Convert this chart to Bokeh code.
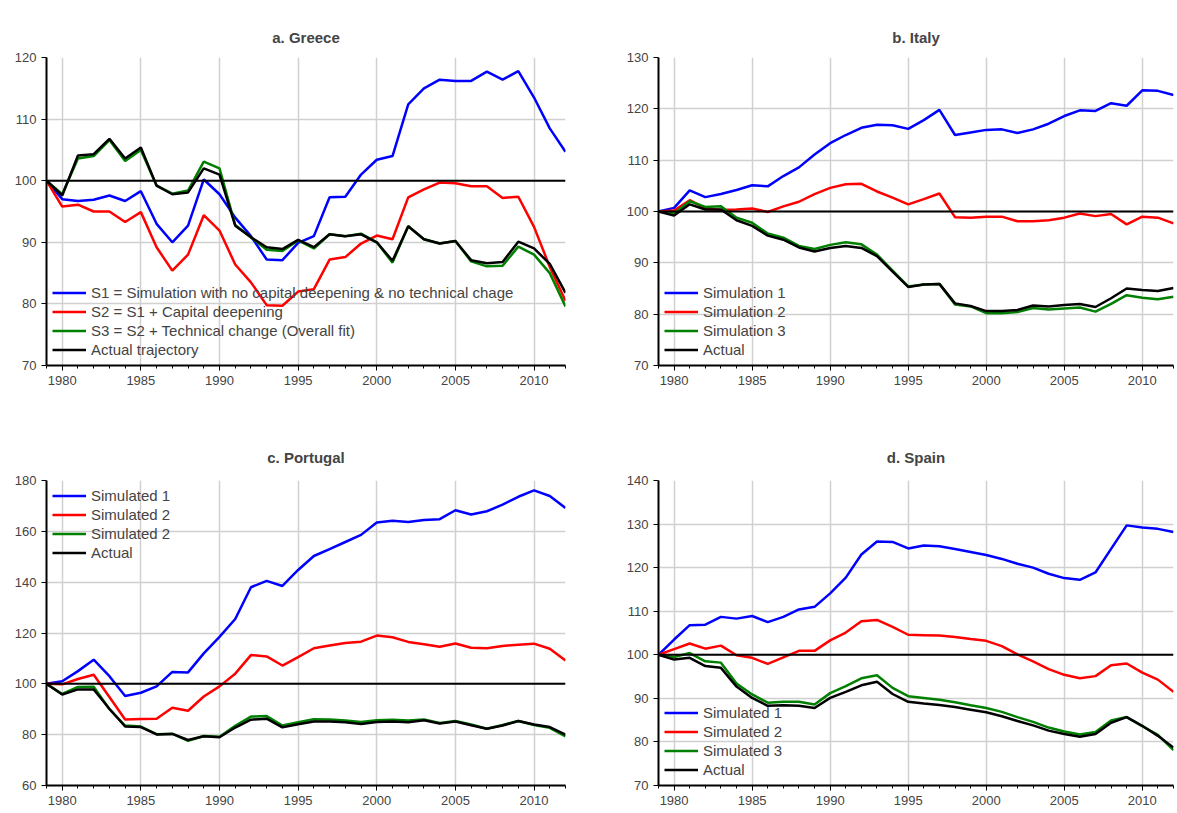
from bokeh.plotting import figure
from bokeh.layouts import gridplot
from bokeh.models import SingleIntervalTicker, Legend, LegendItem, Span, Range1d
from bokeh.embed import file_html
from bokeh.resources import INLINE

years = list(range(1979, 2013))

greece_s1 = [100, 97, 96.7, 96.9, 97.6, 96.7, 98.3, 93, 90, 92.7, 100.2, 97.8, 94, 91, 87.2, 87.1, 89.9, 91,
             97.3, 97.4, 101, 103.4, 104, 112.4, 115, 116.4, 116.2, 116.2, 117.7, 116.4, 117.8, 113.5, 108.5, 104.7]
greece_s2 = [100, 95.8, 96.1, 95, 95, 93.3, 94.9, 89.2, 85.4, 88, 94.4, 91.9, 86.4, 83.5, 79.8, 79.7, 82, 82.4,
             87.2, 87.6, 89.8, 91.1, 90.5, 97.3, 98.6, 99.7, 99.6, 99.1, 99.1, 97.2, 97.4, 92.5, 86, 80.5]
greece_s3 = [100, 97.8, 103.6, 104, 106.6, 103.2, 105, 99.2, 97.9, 98.4, 103.1, 102, 92.8, 90.8, 88.8, 88.6, 90.3,
             89, 91.3, 91, 91.4, 90, 86.7, 92.6, 90.5, 89.8, 90.2, 86.9, 86.1, 86.2, 89.3, 88, 85, 79.6]
greece_act = [100, 97.6, 104.1, 104.3, 106.8, 103.6, 105.4, 99.2, 97.8, 98.1, 102, 101, 92.7, 90.8, 89.2, 88.9,
              90.4, 89.2, 91.3, 91, 91.3, 90, 87, 92.6, 90.5, 89.8, 90.2, 87.1, 86.6, 86.8, 90.1, 89, 86.5, 81.8]

italy_s1 = [100, 100.7, 104.1, 102.8, 103.4, 104.2, 105.1, 104.9, 106.9, 108.6, 111.1, 113.3, 114.9, 116.3, 116.9,
            116.8, 116.1, 117.8, 119.8, 114.9, 115.4, 115.9, 116, 115.3, 116, 117.1, 118.6, 119.7, 119.6, 121.1,
            120.6, 123.6, 123.5, 122.7]
italy_s2 = [100, 100.2, 102.2, 100.6, 100.3, 100.4, 100.6, 99.9, 101, 101.9, 103.4, 104.6, 105.3, 105.4, 103.9,
            102.7, 101.4, 102.4, 103.5, 98.9, 98.8, 99, 99, 98.1, 98.1, 98.3, 98.8, 99.6, 99.1, 99.5, 97.5, 99,
            98.8, 97.7]
italy_s3 = [100, 99.6, 102, 100.9, 101, 98.8, 97.8, 95.7, 94.9, 93.3, 92.7, 93.5, 94, 93.6, 91.6, 88.5, 85.4, 85.8,
            85.9, 81.9, 81.5, 80.2, 80.2, 80.4, 81.2, 80.9, 81.1, 81.3, 80.5, 82, 83.7, 83.2, 82.9, 83.4]
italy_act = [100, 99.2, 101.4, 100.4, 100.4, 98.3, 97.2, 95.3, 94.5, 93, 92.2, 92.9, 93.3, 92.9, 91.3, 88.3, 85.3,
             85.8, 85.9, 82.1, 81.6, 80.6, 80.6, 80.8, 81.7, 81.5, 81.8, 82, 81.4, 83.1, 85, 84.7, 84.5, 85.1]

portugal_s1 = [100, 101, 105, 109.5, 103, 95.2, 96.5, 99, 104.7, 104.5, 112, 118.5, 125.5, 138, 140.5, 138.5,
               144.8, 150.3, 153, 155.8, 158.6, 163.5, 164.2, 163.7, 164.5, 164.8, 168.3, 166.6, 167.9, 170.5,
               173.6, 176.1, 173.9, 169.2]
portugal_s2 = [100, 99.8, 101.9, 103.6, 94.8, 86, 86.2, 86.3, 90.6, 89.4, 95, 99, 104, 111.3, 110.8, 107.2, 110.5,
               114, 115.1, 116.1, 116.6, 119, 118.3, 116.5, 115.6, 114.6, 115.9, 114.2, 114, 114.9, 115.4, 115.8,
               113.8, 109.2]
portugal_s3 = [100, 96, 98.8, 98.9, 90, 83.6, 83.2, 80.2, 80.4, 77.6, 79.5, 79.2, 83.5, 87.1, 87.3, 83.6, 84.9,
               86.1, 86, 85.6, 85, 85.7, 85.9, 85.6, 86, 84.6, 85.4, 84, 82.3, 83.8, 85.4, 83.8, 82.7, 79.3]
portugal_act = [100, 95.8, 97.8, 97.8, 90.2, 83.2, 83, 80.1, 80.3, 77.9, 79.4, 79, 82.8, 85.9, 86.3, 82.9, 84.1,
                85.2, 85.2, 84.9, 84.2, 85, 85.2, 84.9, 85.7, 84.4, 85.2, 83.7, 82.3, 83.6, 85.4, 84, 83, 80]

spain_s1 = [100, 103.5, 106.8, 106.9, 108.7, 108.3, 108.9, 107.5, 108.7, 110.4, 111, 114.1, 117.7, 123, 126,
            125.9, 124.4, 125.1, 124.9, 124.3, 123.6, 122.9, 122, 120.9, 120, 118.6, 117.6, 117.2, 118.9, 124.3,
            129.7, 129.2, 128.9, 128.2]
spain_s2 = [100, 101.3, 102.6, 101.4, 102.1, 99.9, 99.3, 97.9, 99.4, 100.9, 100.9, 103.3, 105.1, 107.7, 108,
            106.4, 104.6, 104.5, 104.4, 104.1, 103.6, 103.2, 102, 100.1, 98.5, 96.7, 95.4, 94.6, 95.1, 97.6, 98,
            95.9, 94.3, 91.5]
spain_s3 = [100, 99.5, 100.4, 98.5, 98.2, 93.4, 90.9, 89, 89.2, 89.2, 88.6, 91.2, 92.8, 94.6, 95.3, 92.4, 90.5,
            90.1, 89.7, 89.1, 88.4, 87.8, 86.9, 85.7, 84.6, 83.3, 82.4, 81.7, 82.3, 84.9, 85.7, 83.6, 81.6, 78.1]
spain_act = [100, 98.9, 99.3, 97.4, 97, 92.7, 90.1, 88.3, 88.4, 88.3, 87.8, 90.1, 91.5, 93, 93.8, 91, 89.2, 88.8,
             88.5, 88, 87.4, 86.8, 85.9, 84.8, 83.8, 82.6, 81.8, 81.2, 81.8, 84.4, 85.7, 83.7, 81.4, 78.7]

FONT = "Liberation Sans"
COLORS = ["#0000ff", "#ff0000", "#008000", "#000000"]


def panel(title, series, labels, yrange, ystep, legend_loc, right_col, top_row):
    p = figure(width=595 if right_col else 580, height=410 if top_row else 400, title=title,
               output_backend="svg", toolbar_location=None,
               x_range=Range1d(1979, 2012), y_range=Range1d(*yrange),
               min_border_left=78 if right_col else 46, min_border_right=2 if right_col else 15,
               min_border_top=57 if top_row else 70, min_border_bottom=45 if top_row else 25)
    p.title.align = "center"
    p.title.text_font = FONT
    p.title.text_font_size = "15px"
    p.title.text_font_style = "bold"
    p.title.offset = 0
    p.title.standoff = 24 if top_row else 30
    p.outline_line_color = None
    p.xaxis.ticker = SingleIntervalTicker(interval=5, num_minor_ticks=5)
    p.yaxis.ticker = SingleIntervalTicker(interval=ystep, num_minor_ticks=0)
    for ax in (p.xaxis, p.yaxis):
        ax.major_label_text_font = FONT
        ax.major_label_text_font_size = "13px"
        ax.axis_line_width = 2
        ax.major_tick_in = 0
        ax.major_tick_out = 5
        ax.minor_tick_in = 0
        ax.minor_tick_out = 3
    p.xgrid.ticker = SingleIntervalTicker(interval=5)
    p.grid.grid_line_color = "#d0d0d0"
    p.grid.grid_line_width = 1.5
    p.add_layout(Span(location=100, dimension="width", line_color="black", line_width=2))
    items = []
    for ys, lab, col in zip(series, labels, COLORS):
        r = p.line(years, ys, line_color=col, line_width=2.5)
        items.append(LegendItem(label=lab, renderers=[r]))
    leg = Legend(items=items, location=legend_loc, border_line_color=None, background_fill_alpha=0,
                 label_text_font=FONT, label_text_font_size="15px", glyph_width=34,
                 label_height=19, glyph_height=19, spacing=0, padding=2, margin=6)
    p.add_layout(leg)
    return p


p1 = panel("a. Greece", [greece_s1, greece_s2, greece_s3, greece_act],
           ["S1 = Simulation with no capital deepening & no technical chage", "S2 = S1 + Capital deepening",
            "S3 = S2 + Technical change (Overall fit)", "Actual trajectory"], (70, 120), 10, "bottom_left",
           False, True)
p2 = panel("b. Italy", [italy_s1, italy_s2, italy_s3, italy_act],
           ["Simulation 1", "Simulation 2", "Simulation 3", "Actual"], (70, 130), 10, "bottom_left", True, True)
p3 = panel("c. Portugal", [portugal_s1, portugal_s2, portugal_s3, portugal_act],
           ["Simulated 1", "Simulated 2", "Simulated 2", "Actual"], (60, 180), 20, "top_left", False, False)
p4 = panel("d. Spain", [spain_s1, spain_s2, spain_s3, spain_act],
           ["Simulated 1", "Simulated 2", "Simulated 3", "Actual"], (70, 140), 10, "bottom_left", True, False)

grid = gridplot([[p1, p2], [p3, p4]], toolbar_location=None)
open("out.html", "w").write(file_html(grid, INLINE))
